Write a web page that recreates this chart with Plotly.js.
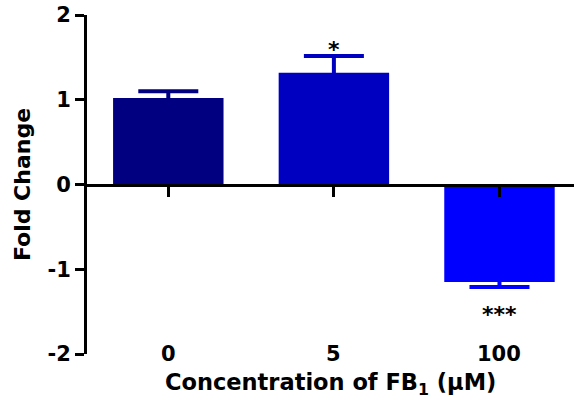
<!DOCTYPE html>
<html>
<head>
<meta charset="utf-8">
<script src="https://cdn.plot.ly/plotly-3.0.1.min.js"></script>
<style>html,body{margin:0;padding:0;background:#fff;}#chart{width:574px;height:407px;}</style>
</head>
<body>
<div id="chart"></div>
<script>
const categories = ["0", "5", "100"];
const foldChange = [1.02, 1.32, -1.15];
const sem = [0.08, 0.195, 0.06];
const significance = ["", "*", "***"];
const barColors = ["#000080", "#0000C0", "#0000FF"];
const yTickVals = [-2, -1, 0, 1, 2];
const yTickText = ["-2", "-1", "0", "1", "2"];

const FONT = "DejaVu Sans, Arial, sans-serif";
const xIdx = categories.map((c, i) => i);

const traces = categories.map((c, i) => ({
  type: "bar",
  x: [xIdx[i]],
  y: [foldChange[i]],
  width: 0.667,
  marker: { color: barColors[i], line: { width: 0 } },
  error_y: { type: "data", array: [sem[i]], symmetric: true, color: barColors[i], thickness: 4, width: 30 },
  showlegend: false,
  hoverinfo: "skip"
}));

const annotations = [];
categories.forEach((c, i) => {
  annotations.push({
    text: c, x: xIdx[i], y: yTickVals[0], xref: "x", yref: "y",
    showarrow: false, yanchor: "middle", xanchor: "center",
    font: { family: FONT, size: 21, color: "#000", weight: "bold" }
  });
  if (significance[i]) {
    const up = foldChange[i] >= 0;
    annotations.push({
      text: significance[i], x: xIdx[i],
      y: foldChange[i] + (up ? sem[i] : -sem[i]),
      xref: "x", yref: "y", showarrow: false,
      yanchor: up ? "bottom" : "top", xanchor: "center",
      yshift: up ? -8 : -13,
      font: { family: FONT, size: 22, color: "#000", weight: "bold" }
    });
  }
});
annotations.push({
  text: "Concentration of FB<sub>1</sub> (μM)",
  xref: "paper", yref: "paper", x: 0.5, y: 0, xanchor: "center", yanchor: "top",
  yshift: -13, showarrow: false,
  font: { family: FONT, size: 22.5, color: "#000", weight: "bold" }
});

const yMin = yTickVals[0], yMax = yTickVals[yTickVals.length - 1];

const layout = {
  width: 574, height: 407,
  margin: { l: 87, r: 0, t: 15, b: 53 },
  paper_bgcolor: "#fff", plot_bgcolor: "#fff",
  barmode: "overlay",
  font: { family: FONT, color: "#000" },
  xaxis: {
    range: [-0.491, 2.45],
    anchor: "free", position: (0 - yMin) / (yMax - yMin),
    showline: true, linecolor: "#000", linewidth: 3,
    ticks: "outside", ticklen: 10, tickwidth: 3, tickcolor: "#000",
    tickvals: xIdx, showticklabels: false,
    showgrid: false, zeroline: false, fixedrange: true
  },
  yaxis: {
    range: [yMin, yMax],
    tickmode: "array", tickvals: yTickVals, ticktext: yTickText,
    showline: true, linecolor: "#000", linewidth: 3,
    ticks: "outside", ticklen: 9, tickwidth: 3, tickcolor: "#000",
    tickfont: { family: FONT, size: 21, color: "#000", weight: "bold" },
    showgrid: false, zeroline: false, fixedrange: true,
    title: { text: "Fold Change", font: { family: FONT, size: 22, color: "#000", weight: "bold" }, standoff: 11 }
  },
  annotations: annotations
};

Plotly.newPlot("chart", traces, layout, { staticPlot: true, displayModeBar: false });
</script>
</body>
</html>
